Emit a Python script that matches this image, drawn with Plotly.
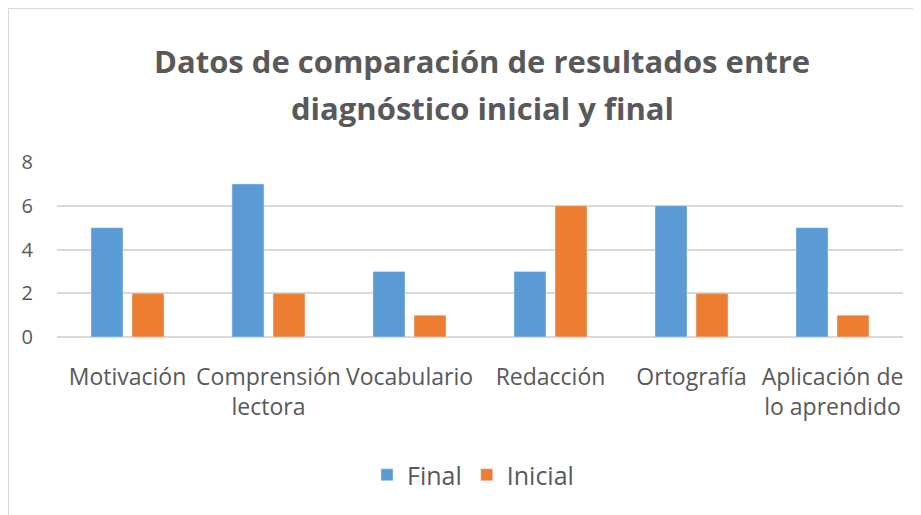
import plotly.graph_objects as go

categories = ["Motivación", "Comprensión<br>lectora", "Vocabulario", "Redacción", "Ortografía", "Aplicación de<br>lo aprendido"]
final_vals = [5, 7, 3, 3, 6, 5]
inicial_vals = [2, 2, 1, 6, 2, 1]
y_ticks = [0, 2, 4, 6, 8]
title_lines = ["Datos de comparación de resultados entre", "diagnóstico inicial y final"]

TXT = "#595959"
FONT = "Open Sans"

fig = go.Figure()
fig.add_trace(go.Bar(name="Final", x=categories, y=final_vals, marker_color="#5B9BD5"))
fig.add_trace(go.Bar(name="Inicial", x=categories, y=inicial_vals, marker_color="#ED7D31"))

# page is offset by the 8px body margin
W, H = 913, 507
L, R, T, B = 49, 18, 154, 178
pw = W - L - R
ph = H - T - B

def py(fy):
    return (329 - fy) / ph

def px(fx):
    return (fx - L) / pw

annotations = []
for line, fy in zip(title_lines, [53, 100]):
    annotations.append(dict(
        text=line, xref="paper", yref="paper", x=px(474), y=py(fy),
        xanchor="center", yanchor="middle", showarrow=False,
        font=dict(family=FONT, size=31, color=TXT, weight="bold"),
    ))

fig.update_layout(
    width=W, height=H,
    margin=dict(l=L, r=R, t=T, b=B),
    paper_bgcolor="white", plot_bgcolor="white",
    barmode="group", bargap=0.418, bargroupgap=0.22,
    font=dict(family=FONT, color=TXT),
    annotations=annotations,
    legend=dict(
        orientation="h", x=px(465), xanchor="center",
        y=py(467), yanchor="middle",
        font=dict(family=FONT, size=25, color=TXT),
    ),
    xaxis=dict(
        showgrid=False, showline=False, ticks="",
        tickfont=dict(family=FONT, size=23, color=TXT),
        ticklabelstandoff=24,
    ),
    yaxis=dict(
        range=[0, 8], tickvals=y_ticks, showgrid=True, gridcolor="#D9D9D9", gridwidth=1.5,
        zeroline=True, zerolinecolor="#D9D9D9", zerolinewidth=1.5,
        showline=False, ticks="",
        tickfont=dict(family=FONT, size=20, color=TXT),
        ticklabelstandoff=23,
    ),
    shapes=[dict(
        type="rect", xref="paper", yref="paper", layer="below",
        x0=px(0), x1=px(W + 10),
        y0=py(H + 10), y1=py(0),
        line=dict(color="#D9D9D9", width=2), fillcolor="rgba(0,0,0,0)",
    )],
)

fig.write_html("out.html")
